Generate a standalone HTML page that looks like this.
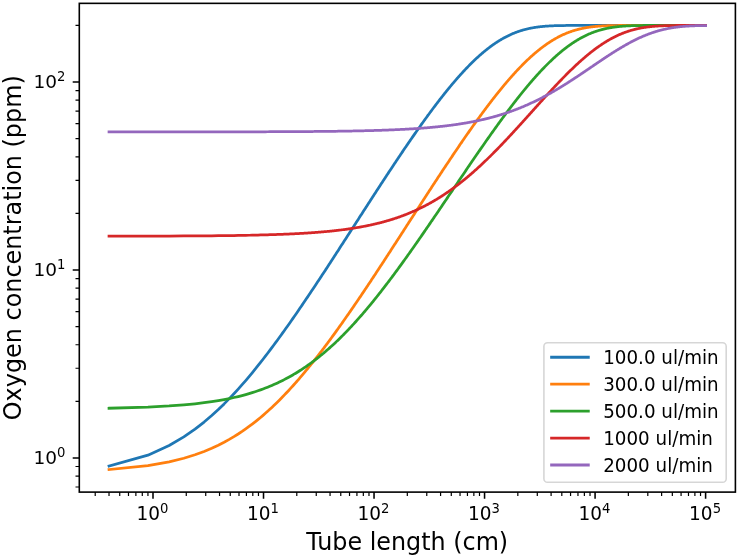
<!DOCTYPE html>
<html><head><meta charset="utf-8"><title>Oxygen concentration vs tube length</title>
<style>html,body{margin:0;padding:0;background:#fff}svg{display:block}text{font-family:"DejaVu Sans","Liberation Sans",sans-serif;fill:#000}</style></head><body>
<svg width="739" height="558" viewBox="0 0 739 558">
<rect width="739" height="558" fill="#fff"/>
<clipPath id="c"><rect x="79.30" y="3.35" width="656.10" height="488.75"/></clipPath>
<g clip-path="url(#c)" fill="none" stroke-width="2.75" stroke-linecap="square" stroke-linejoin="round">
<polyline stroke="#1f77b4" points="109.02,466.04 147.94,455.14 169.15,445.52 183.81,436.93 195.02,429.16 204.10,422.07 211.74,415.55 218.32,409.52 224.11,403.91 229.28,398.66 233.94,393.73 238.19,389.08 242.10,384.69 245.71,380.53 249.07,376.57 252.21,372.79 255.15,369.19 257.93,365.73 260.55,362.43 263.04,359.25 265.40,356.19 267.66,353.25 269.81,350.41 271.87,347.66 273.84,345.01 275.74,342.44 277.57,339.96 279.33,337.55 281.02,335.20 282.66,332.93 284.24,330.72 285.78,328.57 287.26,326.47 288.71,324.43 290.11,322.44 291.47,320.50 292.79,318.60 294.07,316.75 295.33,314.94 296.55,313.18 297.74,311.45 298.90,309.75 300.04,308.09 301.15,306.47 302.23,304.88 303.29,303.32 304.33,301.79 305.34,300.29 306.33,298.82 307.31,297.38 308.26,295.96 309.20,294.56 310.12,293.19 311.02,291.85 311.90,290.52 312.77,289.22 313.62,287.94 314.46,286.68 315.28,285.44 316.09,284.22 316.89,283.02 317.67,281.84 318.44,280.67 319.20,279.52 319.95,278.39 320.68,277.28 321.40,276.18 322.12,275.09 322.82,274.02 323.51,272.97 324.20,271.93 324.87,270.90 325.53,269.88 326.19,268.88 326.83,267.90 327.47,266.92 328.10,265.96 328.72,265.01 329.33,264.07 329.94,263.14 330.54,262.22 331.13,261.31 331.71,260.42 332.29,259.53 332.86,258.65 333.42,257.79 333.98,256.93 334.53,256.08 335.07,255.25 335.61,254.42 336.14,253.60 336.66,252.79 337.18,251.98 337.70,251.19 338.21,250.40 338.71,249.63 339.70,248.09 340.67,246.59 341.63,245.12 342.56,243.67 343.48,242.25 344.38,240.86 345.26,239.49 346.12,238.15 346.98,236.83 347.81,235.53 348.63,234.26 349.44,233.00 350.24,231.77 351.02,230.56 351.79,229.36 352.54,228.19 353.29,227.03 354.02,225.89 354.75,224.77 355.46,223.66 356.16,222.57 356.85,221.50 357.53,220.44 358.21,219.40 358.87,218.37 359.52,217.35 360.17,216.35 360.80,215.36 361.43,214.39 362.05,213.43 362.66,212.48 363.27,211.54 363.87,210.61 364.46,209.70 365.04,208.80 365.61,207.91 366.18,207.02 366.74,206.15 367.30,205.29 367.85,204.44 368.39,203.60 368.93,202.77 369.46,201.95 369.99,201.14 370.51,200.34 371.02,199.54 371.53,198.76 372.03,197.98 372.78,196.83 373.51,195.70 374.23,194.59 374.94,193.49 375.64,192.41 376.34,191.34 377.02,190.30 377.69,189.26 378.35,188.25 379.01,187.24 379.65,186.25 380.29,185.28 380.91,184.31 381.53,183.36 382.15,182.43 382.75,181.50 383.35,180.59 383.94,179.69 384.52,178.80 385.09,177.93 385.66,177.06 386.23,176.20 386.78,175.36 387.33,174.52 387.87,173.70 388.41,172.88 388.94,172.08 389.46,171.28 389.98,170.50 390.50,169.72 391.01,168.95 391.51,168.19 392.17,167.19 392.82,166.20 393.47,165.23 394.11,164.27 394.73,163.33 395.35,162.40 395.97,161.48 396.57,160.58 397.17,159.68 397.76,158.80 398.34,157.93 398.91,157.07 399.48,156.23 400.04,155.39 400.60,154.56 401.15,153.75 401.69,152.94 402.23,152.15 402.76,151.36 403.28,150.59 403.80,149.82 404.31,149.06 404.82,148.32 405.33,147.58 405.95,146.66 406.56,145.76 407.17,144.88 407.76,144.00 408.35,143.14 408.94,142.29 409.51,141.45 410.08,140.62 410.65,139.80 411.20,139.00 411.75,138.20 412.30,137.41 412.84,136.64 413.37,135.87 413.89,135.12 414.41,134.37 414.93,133.63 415.44,132.90 415.94,132.18 416.54,131.33 417.13,130.49 417.71,129.66 418.29,128.84 418.86,128.03 419.42,127.24 419.98,126.45 420.53,125.68 421.07,124.92 421.61,124.16 422.14,123.42 422.66,122.68 423.18,121.96 423.70,121.24 424.21,120.54 424.71,119.84 425.29,119.03 425.87,118.24 426.43,117.46 426.99,116.69 427.55,115.93 428.10,115.18 428.64,114.44 429.17,113.71 429.70,113.00 430.23,112.29 430.75,111.59 431.26,110.89 431.77,110.21 432.27,109.54 432.84,108.78 433.40,108.03 433.95,107.29 434.50,106.56 435.04,105.85 435.58,105.14 436.11,104.44 436.63,103.75 437.15,103.07 437.66,102.40 438.17,101.74 438.67,101.09 439.23,100.37 439.78,99.65 440.33,98.95 440.87,98.26 441.40,97.57 441.93,96.90 442.45,96.24 442.97,95.58 443.48,94.94 443.98,94.30 444.48,93.67 445.03,92.98 445.58,92.30 446.12,91.63 446.65,90.98 447.17,90.33 447.69,89.69 448.21,89.06 448.72,88.43 449.22,87.82 449.77,87.16 450.31,86.50 450.85,85.86 451.38,85.22 451.90,84.59 452.42,83.98 452.93,83.37 453.44,82.77 453.94,82.18 454.48,81.55 455.02,80.92 455.55,80.31 456.07,79.70 456.59,79.10 457.11,78.52 457.61,77.94 458.12,77.37 458.65,76.76 459.19,76.16 459.71,75.57 460.23,74.99 460.75,74.42 461.26,73.85 461.76,73.30 462.30,72.71 462.83,72.13 463.36,71.56 463.88,71.00 464.39,70.45 464.90,69.91 465.40,69.38 465.94,68.81 466.46,68.26 466.99,67.71 467.50,67.18 468.01,66.65 468.52,66.13 469.02,65.62 469.55,65.09 470.07,64.56 470.59,64.04 471.10,63.53 471.60,63.03 472.10,62.54 472.63,62.02 473.15,61.52 473.66,61.02 474.17,60.53 474.68,60.05 475.20,59.55 475.73,59.06 476.24,58.58 476.75,58.10 477.26,57.64 477.76,57.18 478.28,56.70 478.80,56.24 479.31,55.78 479.82,55.33 480.32,54.89 480.84,54.43 481.35,53.98 481.87,53.54 482.37,53.11 482.89,52.66 483.41,52.22 483.93,51.80 484.44,51.37 484.94,50.96 485.46,50.54 485.97,50.12 486.48,49.71 486.99,49.31 487.51,48.90 488.03,48.50 488.54,48.10 489.04,47.72 489.54,47.34 490.06,46.95 490.57,46.57 491.08,46.19 491.58,45.83 492.09,45.46 492.60,45.09 493.11,44.73 493.63,44.37 494.14,44.01 494.65,43.66 495.15,43.32 495.67,42.97 496.18,42.63 496.69,42.30 497.19,41.98 497.70,41.65 498.21,41.32 498.71,41.01 499.23,40.69 499.74,40.37 500.24,40.07 500.76,39.76 501.27,39.46 501.77,39.16 502.28,38.87 502.79,38.58 503.29,38.30 503.79,38.02 504.31,37.74 504.81,37.47 505.31,37.20 505.82,36.93 506.33,36.67 506.83,36.41 507.34,36.16 507.85,35.91 508.36,35.66 508.87,35.41 509.37,35.17 509.89,34.93 510.39,34.70 510.89,34.47 511.40,34.25 511.91,34.02 512.42,33.80 512.93,33.59 513.43,33.38 513.94,33.17 514.45,32.97 514.96,32.76 515.47,32.57 515.97,32.38 516.48,32.18 516.98,32.00 517.49,31.82 518.00,31.64 518.51,31.46 519.01,31.29 519.51,31.12 520.02,30.95 520.52,30.79 521.03,30.63 521.53,30.48 522.04,30.32 522.54,30.17 523.05,30.03 523.56,29.88 524.06,29.74 524.57,29.61 525.08,29.47 525.58,29.34 526.09,29.21 526.59,29.09 527.10,28.97 527.60,28.85 528.10,28.73 528.61,28.62 529.11,28.51 529.61,28.40 530.12,28.30 530.62,28.20 531.13,28.10 531.63,28.00 532.13,27.91 532.64,27.82 533.15,27.73 533.65,27.64 534.16,27.55 534.66,27.47 535.16,27.39 535.67,27.32 536.17,27.24 536.68,27.17 537.19,27.10 537.69,27.03 538.19,26.96 538.70,26.90 539.20,26.84 539.71,26.78 540.21,26.72 540.72,26.66 541.22,26.61 541.73,26.56 542.23,26.51 542.73,26.46 543.23,26.41 543.74,26.37 544.24,26.32 544.74,26.28 545.25,26.24 545.75,26.20 546.25,26.16 546.76,26.13 547.26,26.09 547.76,26.06 548.27,26.03 548.77,26.00 549.27,25.97 549.77,25.94 550.28,25.91 550.78,25.89 551.28,25.86 551.79,25.84 552.29,25.82 552.79,25.79 553.29,25.77 553.79,25.75 554.30,25.74 554.80,25.72 555.30,25.70 555.80,25.68 556.31,25.67 556.81,25.65 557.31,25.64 557.82,25.63 558.32,25.61 558.82,25.60 559.33,25.59 559.83,25.58 560.33,25.57 560.83,25.56 561.34,25.55 561.84,25.54 562.34,25.54 562.84,25.53 563.34,25.52 563.84,25.51 564.35,25.51 564.85,25.50 565.35,25.50 565.85,25.49 566.35,25.49 566.86,25.48 567.36,25.48 567.86,25.47 568.36,25.47 568.87,25.47 569.37,25.46 569.87,25.46 570.37,25.46 570.88,25.45 571.38,25.45 571.88,25.45 572.38,25.45 572.88,25.44 573.38,25.44 573.89,25.44 574.39,25.44 574.89,25.44 575.39,25.44 575.89,25.43 576.39,25.43 576.90,25.43 577.40,25.43 577.90,25.43 578.40,25.43 578.90,25.43 579.40,25.43 579.90,25.43 580.41,25.43 580.91,25.43 581.41,25.43 581.91,25.43 582.41,25.43 582.91,25.42 583.41,25.42 583.92,25.42 584.42,25.42 584.92,25.42 585.42,25.42 585.92,25.42 586.42,25.42 586.92,25.42 587.43,25.42 587.93,25.42 588.43,25.42 588.93,25.42 589.43,25.42 589.93,25.42 590.44,25.42 590.94,25.42 591.44,25.42 591.94,25.42 592.45,25.42 592.95,25.42 593.45,25.42 593.95,25.42 594.45,25.42 594.95,25.42 595.45,25.42 595.95,25.42 596.46,25.42 596.96,25.42 597.46,25.42 597.96,25.42 598.46,25.42 598.96,25.42 599.46,25.42 599.97,25.42 600.47,25.42 600.97,25.42 601.47,25.42 601.97,25.42 602.47,25.42 602.97,25.42 603.47,25.42 603.97,25.42 604.47,25.42 604.97,25.42 605.48,25.42 605.98,25.42 606.48,25.42 606.98,25.42 607.48,25.42 607.98,25.42 608.48,25.42 608.98,25.42 609.48,25.42 609.98,25.42 610.49,25.42 610.99,25.42 611.49,25.42 611.99,25.42 612.49,25.42 612.99,25.42 613.49,25.42 613.99,25.42 614.49,25.42 614.99,25.42 615.49,25.42 615.99,25.42 616.49,25.42 616.99,25.42 617.49,25.42 618.00,25.42 618.50,25.42 619.00,25.42 619.50,25.42 620.00,25.42 620.50,25.42 621.00,25.42 621.50,25.42 622.00,25.42 622.50,25.42 623.00,25.42 623.50,25.42 624.00,25.42 624.50,25.42 625.00,25.42 625.50,25.42 626.00,25.42 626.51,25.42 627.01,25.42 627.51,25.42 628.01,25.42 628.51,25.42 629.01,25.42 629.51,25.42 630.01,25.42 630.51,25.42 631.01,25.42 631.51,25.42 632.01,25.42 632.51,25.42 633.01,25.42 633.51,25.42 634.01,25.42 634.52,25.42 635.02,25.42 635.52,25.42 636.02,25.42 636.52,25.42 637.02,25.42 637.52,25.42 638.02,25.42 638.52,25.42 639.02,25.42 639.52,25.42 640.02,25.42 640.52,25.42 641.02,25.42 641.52,25.42 642.02,25.42 642.52,25.42 643.02,25.42 643.52,25.42 644.03,25.42 644.53,25.42 645.03,25.42 645.53,25.42 646.03,25.42 646.53,25.42 647.03,25.42 647.53,25.42 648.03,25.42 648.53,25.42 649.03,25.42 649.53,25.42 650.03,25.42 650.53,25.42 651.03,25.42 651.53,25.42 652.03,25.42 652.53,25.42 653.03,25.42 653.53,25.42 654.03,25.42 654.53,25.42 655.03,25.42 655.53,25.42 656.03,25.42 656.53,25.42 657.03,25.42 657.54,25.42 658.04,25.42 658.54,25.42 659.04,25.42 659.54,25.42 660.04,25.42 660.54,25.42 661.04,25.42 661.54,25.42 662.04,25.42 662.54,25.42 663.04,25.42 663.54,25.42 664.04,25.42 664.54,25.42 665.04,25.42 665.54,25.42 666.04,25.42 666.54,25.42 667.04,25.42 667.54,25.42 668.04,25.42 668.54,25.42 669.04,25.42 669.54,25.42 670.04,25.42 670.54,25.42 671.04,25.42 671.54,25.42 672.04,25.42 672.54,25.42 673.04,25.42 673.54,25.42 674.04,25.42 674.54,25.42 675.04,25.42 675.54,25.42 676.04,25.42 676.55,25.42 677.05,25.42 677.55,25.42 678.05,25.42 678.55,25.42 679.05,25.42 679.55,25.42 680.05,25.42 680.55,25.42 681.05,25.42 681.55,25.42 682.05,25.42 682.55,25.42 683.05,25.42 683.55,25.42 684.05,25.42 684.55,25.42 685.05,25.42 685.55,25.42 686.05,25.42 686.55,25.42 687.05,25.42 687.55,25.42 688.05,25.42 688.55,25.42 689.05,25.42 689.55,25.42 690.05,25.42 690.55,25.42 691.05,25.42 691.55,25.42 692.05,25.42 692.55,25.42 693.05,25.42 693.55,25.42 694.05,25.42 694.55,25.42 695.05,25.42 695.55,25.42 696.05,25.42 696.55,25.42 697.05,25.42 697.55,25.42 698.05,25.42 698.55,25.42 699.05,25.42 699.55,25.42 700.05,25.42 700.55,25.42 701.05,25.42 701.55,25.42 702.05,25.42 702.55,25.42 703.05,25.42 703.55,25.42 704.05,25.42 704.55,25.42 705.05,25.42 705.55,25.42 705.60,25.42"/>
<polyline stroke="#ff7f0e" points="109.02,469.59 147.94,465.63 169.15,461.85 183.81,458.23 195.02,454.77 204.10,451.46 211.74,448.27 218.32,445.20 224.11,442.25 229.28,439.40 233.94,436.64 238.19,433.98 242.10,431.40 245.71,428.90 249.07,426.47 252.21,424.12 255.15,421.83 257.93,419.60 260.55,417.44 263.04,415.33 265.40,413.27 267.66,411.27 269.81,409.31 271.87,407.40 273.84,405.54 275.74,403.71 277.57,401.93 279.33,400.18 281.02,398.48 282.66,396.80 284.24,395.16 285.78,393.56 287.26,391.98 288.71,390.44 290.11,388.92 291.47,387.43 292.79,385.97 294.07,384.54 295.33,383.13 296.55,381.74 297.74,380.38 298.90,379.04 300.04,377.72 301.15,376.43 302.23,375.15 303.29,373.90 304.33,372.66 305.34,371.44 306.33,370.24 307.31,369.06 308.26,367.89 309.20,366.75 310.12,365.61 311.02,364.50 311.90,363.40 312.77,362.31 313.62,361.24 314.46,360.18 315.28,359.14 316.09,358.11 316.89,357.09 317.67,356.08 318.44,355.09 319.20,354.11 319.95,353.14 320.68,352.19 321.40,351.24 322.12,350.31 322.82,349.38 323.51,348.47 324.20,347.57 324.87,346.68 325.53,345.79 326.19,344.92 326.83,344.06 327.47,343.20 328.10,342.36 328.72,341.52 329.33,340.69 329.94,339.87 330.54,339.06 331.13,338.26 331.71,337.46 332.29,336.67 332.86,335.89 333.42,335.12 333.98,334.36 334.53,333.60 335.07,332.85 335.61,332.11 336.14,331.37 336.66,330.64 337.18,329.92 337.70,329.20 338.21,328.49 338.71,327.79 339.70,326.40 340.67,325.03 341.63,323.69 342.56,322.37 343.48,321.07 344.38,319.79 345.26,318.54 346.12,317.30 346.98,316.08 347.81,314.88 348.63,313.70 349.44,312.53 350.24,311.38 351.02,310.25 351.79,309.14 352.54,308.04 353.29,306.95 354.02,305.88 354.75,304.82 355.46,303.78 356.16,302.75 356.85,301.74 357.53,300.74 358.21,299.75 358.87,298.77 359.52,297.80 360.17,296.85 360.80,295.91 361.43,294.98 362.05,294.05 362.66,293.14 363.27,292.25 363.87,291.36 364.46,290.48 365.04,289.61 365.61,288.75 366.18,287.90 366.74,287.06 367.30,286.22 367.85,285.40 368.39,284.58 368.93,283.78 369.46,282.98 369.99,282.19 370.51,281.41 371.02,280.63 371.53,279.86 372.03,279.10 372.78,277.98 373.51,276.87 374.23,275.77 374.94,274.70 375.64,273.63 376.34,272.58 377.02,271.55 377.69,270.52 378.35,269.51 379.01,268.52 379.65,267.53 380.29,266.56 380.91,265.60 381.53,264.66 382.15,263.72 382.75,262.80 383.35,261.88 383.94,260.98 384.52,260.09 385.09,259.21 385.66,258.33 386.23,257.47 386.78,256.62 387.33,255.77 387.87,254.94 388.41,254.11 388.94,253.30 389.46,252.49 389.98,251.69 390.50,250.90 391.01,250.12 391.51,249.34 392.17,248.32 392.82,247.31 393.47,246.32 394.11,245.33 394.73,244.36 395.35,243.41 395.97,242.46 396.57,241.53 397.17,240.61 397.76,239.69 398.34,238.79 398.91,237.90 399.48,237.02 400.04,236.16 400.60,235.30 401.15,234.45 401.69,233.61 402.23,232.77 402.76,231.95 403.28,231.14 403.80,230.33 404.31,229.54 404.82,228.75 405.33,227.97 405.95,227.01 406.56,226.06 407.17,225.12 407.76,224.19 408.35,223.28 408.94,222.37 409.51,221.48 410.08,220.60 410.65,219.72 411.20,218.86 411.75,218.01 412.30,217.17 412.84,216.33 413.37,215.51 413.89,214.69 414.41,213.89 414.93,213.09 415.44,212.30 415.94,211.52 416.54,210.60 417.13,209.68 417.71,208.78 418.29,207.89 418.86,207.01 419.42,206.14 419.98,205.28 420.53,204.43 421.07,203.59 421.61,202.76 422.14,201.94 422.66,201.13 423.18,200.32 423.70,199.53 424.21,198.74 424.71,197.97 425.29,197.07 425.87,196.19 426.43,195.31 426.99,194.45 427.55,193.60 428.10,192.75 428.64,191.92 429.17,191.10 429.70,190.28 430.23,189.48 430.75,188.68 431.26,187.90 431.77,187.12 432.27,186.35 432.84,185.48 433.40,184.62 433.95,183.77 434.50,182.94 435.04,182.11 435.58,181.29 436.11,180.48 436.63,179.68 437.15,178.89 437.66,178.11 438.17,177.34 438.67,176.57 439.23,175.72 439.78,174.88 440.33,174.05 440.87,173.24 441.40,172.43 441.93,171.63 442.45,170.84 442.97,170.05 443.48,169.28 443.98,168.52 444.48,167.76 445.03,166.93 445.58,166.11 446.12,165.30 446.65,164.50 447.17,163.71 447.69,162.93 448.21,162.16 448.72,161.40 449.22,160.64 449.77,159.82 450.31,159.01 450.85,158.21 451.38,157.42 451.90,156.64 452.42,155.87 452.93,155.11 453.44,154.35 453.94,153.61 454.48,152.80 455.02,152.01 455.55,151.23 456.07,150.45 456.59,149.69 457.11,148.93 457.61,148.18 458.12,147.45 458.65,146.66 459.19,145.88 459.71,145.10 460.23,144.34 460.75,143.59 461.26,142.85 461.76,142.11 462.30,141.33 462.83,140.56 463.36,139.80 463.88,139.04 464.39,138.30 464.90,137.56 465.40,136.84 465.94,136.07 466.46,135.31 466.99,134.56 467.50,133.82 468.01,133.09 468.52,132.37 469.02,131.65 469.55,130.90 470.07,130.16 470.59,129.43 471.10,128.70 471.60,127.99 472.10,127.28 472.63,126.54 473.15,125.80 473.66,125.08 474.17,124.37 474.68,123.66 475.20,122.92 475.73,122.20 476.24,121.48 476.75,120.77 477.26,120.07 477.76,119.37 478.28,118.65 478.80,117.94 479.31,117.24 479.82,116.54 480.32,115.86 480.84,115.14 481.35,114.44 481.87,113.75 482.37,113.06 482.89,112.35 483.41,111.65 483.93,110.96 484.44,110.27 484.94,109.60 485.46,108.90 485.97,108.21 486.48,107.53 486.99,106.86 487.51,106.17 488.03,105.49 488.54,104.81 489.04,104.15 489.54,103.49 490.06,102.82 490.57,102.15 491.08,101.49 491.58,100.84 492.09,100.18 492.60,99.52 493.11,98.87 493.63,98.20 494.14,97.55 494.65,96.90 495.15,96.26 495.67,95.60 496.18,94.96 496.69,94.32 497.19,93.69 497.70,93.05 498.21,92.41 498.71,91.79 499.23,91.15 499.74,90.52 500.24,89.90 500.76,89.26 501.27,88.64 501.77,88.02 502.28,87.41 502.79,86.80 503.29,86.19 503.79,85.58 504.31,84.97 504.81,84.37 505.31,83.77 505.82,83.17 506.33,82.57 506.83,81.98 507.34,81.39 507.85,80.80 508.36,80.20 508.87,79.62 509.37,79.04 509.89,78.45 510.39,77.87 510.89,77.30 511.40,76.72 511.91,76.16 512.42,75.58 512.93,75.02 513.43,74.46 513.94,73.89 514.45,73.34 514.96,72.78 515.47,72.23 515.97,71.68 516.48,71.13 516.98,70.59 517.49,70.05 518.00,69.51 518.51,68.97 519.01,68.44 519.51,67.92 520.02,67.39 520.52,66.87 521.03,66.35 521.53,65.83 522.04,65.32 522.54,64.81 523.05,64.30 523.56,63.79 524.06,63.29 524.57,62.79 525.08,62.29 525.58,61.80 526.09,61.31 526.59,60.83 527.10,60.34 527.60,59.86 528.10,59.38 528.61,58.91 529.11,58.44 529.61,57.98 530.12,57.52 530.62,57.05 531.13,56.59 531.63,56.14 532.13,55.69 532.64,55.24 533.15,54.79 533.65,54.35 534.16,53.91 534.66,53.48 535.16,53.05 535.67,52.62 536.17,52.20 536.68,51.77 537.19,51.35 537.69,50.94 538.19,50.53 538.70,50.12 539.20,49.72 539.71,49.32 540.21,48.92 540.72,48.53 541.22,48.14 541.73,47.75 542.23,47.37 542.73,46.99 543.23,46.61 543.74,46.24 544.24,45.87 544.74,45.51 545.25,45.15 545.75,44.79 546.25,44.44 546.76,44.09 547.26,43.74 547.76,43.40 548.27,43.06 548.77,42.73 549.27,42.39 549.77,42.07 550.28,41.74 550.78,41.42 551.28,41.10 551.79,40.79 552.29,40.48 552.79,40.18 553.29,39.87 553.79,39.58 554.30,39.28 554.80,38.99 555.30,38.70 555.80,38.42 556.31,38.14 556.81,37.86 557.31,37.59 557.82,37.32 558.32,37.05 558.82,36.79 559.33,36.53 559.83,36.28 560.33,36.03 560.83,35.78 561.34,35.54 561.84,35.30 562.34,35.06 562.84,34.83 563.34,34.60 563.84,34.37 564.35,34.15 564.85,33.93 565.35,33.72 565.85,33.51 566.35,33.30 566.86,33.09 567.36,32.89 567.86,32.70 568.36,32.50 568.87,32.31 569.37,32.12 569.87,31.94 570.37,31.76 570.88,31.58 571.38,31.41 571.88,31.24 572.38,31.07 572.88,30.91 573.38,30.75 573.89,30.59 574.39,30.44 574.89,30.29 575.39,30.14 575.89,30.00 576.39,29.85 576.90,29.72 577.40,29.58 577.90,29.45 578.40,29.32 578.90,29.19 579.40,29.07 579.90,28.95 580.41,28.83 580.91,28.72 581.41,28.61 581.91,28.50 582.41,28.39 582.91,28.29 583.41,28.18 583.92,28.09 584.42,27.99 584.92,27.90 585.42,27.81 585.92,27.72 586.42,27.63 586.92,27.55 587.43,27.47 587.93,27.39 588.43,27.31 588.93,27.24 589.43,27.17 589.93,27.10 590.44,27.03 590.94,26.96 591.44,26.90 591.94,26.84 592.45,26.78 592.95,26.72 593.45,26.66 593.95,26.61 594.45,26.56 594.95,26.51 595.45,26.46 595.95,26.41 596.46,26.37 596.96,26.32 597.46,26.28 597.96,26.24 598.46,26.20 598.96,26.17 599.46,26.13 599.97,26.09 600.47,26.06 600.97,26.03 601.47,26.00 601.97,25.97 602.47,25.94 602.97,25.91 603.47,25.89 603.97,25.86 604.47,25.84 604.97,25.82 605.48,25.80 605.98,25.78 606.48,25.76 606.98,25.74 607.48,25.72 607.98,25.70 608.48,25.69 608.98,25.67 609.48,25.66 609.98,25.64 610.49,25.63 610.99,25.62 611.49,25.60 611.99,25.59 612.49,25.58 612.99,25.57 613.49,25.56 613.99,25.55 614.49,25.54 614.99,25.54 615.49,25.53 615.99,25.52 616.49,25.51 616.99,25.51 617.49,25.50 618.00,25.50 618.50,25.49 619.00,25.49 619.50,25.48 620.00,25.48 620.50,25.47 621.00,25.47 621.50,25.47 622.00,25.46 622.50,25.46 623.00,25.46 623.50,25.45 624.00,25.45 624.50,25.45 625.00,25.45 625.50,25.44 626.00,25.44 626.51,25.44 627.01,25.44 627.51,25.44 628.01,25.44 628.51,25.44 629.01,25.43 629.51,25.43 630.01,25.43 630.51,25.43 631.01,25.43 631.51,25.43 632.01,25.43 632.51,25.43 633.01,25.43 633.51,25.43 634.01,25.43 634.52,25.43 635.02,25.43 635.52,25.42 636.02,25.42 636.52,25.42 637.02,25.42 637.52,25.42 638.02,25.42 638.52,25.42 639.02,25.42 639.52,25.42 640.02,25.42 640.52,25.42 641.02,25.42 641.52,25.42 642.02,25.42 642.52,25.42 643.02,25.42 643.52,25.42 644.03,25.42 644.53,25.42 645.03,25.42 645.53,25.42 646.03,25.42 646.53,25.42 647.03,25.42 647.53,25.42 648.03,25.42 648.53,25.42 649.03,25.42 649.53,25.42 650.03,25.42 650.53,25.42 651.03,25.42 651.53,25.42 652.03,25.42 652.53,25.42 653.03,25.42 653.53,25.42 654.03,25.42 654.53,25.42 655.03,25.42 655.53,25.42 656.03,25.42 656.53,25.42 657.03,25.42 657.54,25.42 658.04,25.42 658.54,25.42 659.04,25.42 659.54,25.42 660.04,25.42 660.54,25.42 661.04,25.42 661.54,25.42 662.04,25.42 662.54,25.42 663.04,25.42 663.54,25.42 664.04,25.42 664.54,25.42 665.04,25.42 665.54,25.42 666.04,25.42 666.54,25.42 667.04,25.42 667.54,25.42 668.04,25.42 668.54,25.42 669.04,25.42 669.54,25.42 670.04,25.42 670.54,25.42 671.04,25.42 671.54,25.42 672.04,25.42 672.54,25.42 673.04,25.42 673.54,25.42 674.04,25.42 674.54,25.42 675.04,25.42 675.54,25.42 676.04,25.42 676.55,25.42 677.05,25.42 677.55,25.42 678.05,25.42 678.55,25.42 679.05,25.42 679.55,25.42 680.05,25.42 680.55,25.42 681.05,25.42 681.55,25.42 682.05,25.42 682.55,25.42 683.05,25.42 683.55,25.42 684.05,25.42 684.55,25.42 685.05,25.42 685.55,25.42 686.05,25.42 686.55,25.42 687.05,25.42 687.55,25.42 688.05,25.42 688.55,25.42 689.05,25.42 689.55,25.42 690.05,25.42 690.55,25.42 691.05,25.42 691.55,25.42 692.05,25.42 692.55,25.42 693.05,25.42 693.55,25.42 694.05,25.42 694.55,25.42 695.05,25.42 695.55,25.42 696.05,25.42 696.55,25.42 697.05,25.42 697.55,25.42 698.05,25.42 698.55,25.42 699.05,25.42 699.55,25.42 700.05,25.42 700.55,25.42 701.05,25.42 701.55,25.42 702.05,25.42 702.55,25.42 703.05,25.42 703.55,25.42 704.05,25.42 704.55,25.42 705.05,25.42 705.55,25.42 705.60,25.42"/>
<polyline stroke="#2ca02c" points="109.02,408.23 147.94,407.10 169.15,405.98 183.81,404.87 195.02,403.78 204.10,402.71 211.74,401.64 218.32,400.60 224.11,399.56 229.28,398.54 233.94,397.53 238.19,396.54 242.10,395.55 245.71,394.58 249.07,393.62 252.21,392.67 255.15,391.73 257.93,390.80 260.55,389.89 263.04,388.98 265.40,388.08 267.66,387.20 269.81,386.32 271.87,385.45 273.84,384.59 275.74,383.74 277.57,382.90 279.33,382.07 281.02,381.25 282.66,380.43 284.24,379.63 285.78,378.83 287.26,378.04 288.71,377.25 290.11,376.48 291.47,375.71 292.79,374.95 294.07,374.19 295.33,373.45 296.55,372.71 297.74,371.97 298.90,371.25 300.04,370.53 301.15,369.81 302.23,369.10 303.29,368.40 304.33,367.71 305.34,367.02 306.33,366.33 307.31,365.66 308.26,364.98 309.20,364.32 310.12,363.66 311.02,363.00 311.90,362.35 312.77,361.71 313.62,361.07 314.46,360.43 315.28,359.80 316.09,359.18 316.89,358.56 317.67,357.94 318.44,357.33 319.20,356.72 319.95,356.12 320.68,355.53 321.40,354.93 322.12,354.34 322.82,353.76 323.51,353.18 324.20,352.60 324.87,352.03 325.53,351.47 326.19,350.90 326.83,350.34 327.47,349.79 328.10,349.23 328.72,348.69 329.33,348.14 329.94,347.60 330.54,347.06 331.13,346.53 331.71,346.00 332.29,345.47 332.86,344.95 333.42,344.43 333.98,343.92 334.53,343.40 335.07,342.89 335.61,342.39 336.14,341.88 336.66,341.38 337.18,340.89 337.70,340.39 338.21,339.90 338.71,339.41 339.70,338.45 340.67,337.49 341.63,336.55 342.56,335.61 343.48,334.69 344.38,333.78 345.26,332.88 346.12,331.99 346.98,331.11 347.81,330.23 348.63,329.37 349.44,328.52 350.24,327.67 351.02,326.84 351.79,326.01 352.54,325.19 353.29,324.38 354.02,323.58 354.75,322.79 355.46,322.00 356.16,321.23 356.85,320.45 357.53,319.69 358.21,318.94 358.87,318.19 359.52,317.45 360.17,316.71 360.80,315.98 361.43,315.26 362.05,314.55 362.66,313.84 363.27,313.13 363.87,312.44 364.46,311.75 365.04,311.06 365.61,310.39 366.18,309.71 366.74,309.05 367.30,308.39 367.85,307.73 368.39,307.08 368.93,306.43 369.46,305.79 369.99,305.16 370.51,304.53 371.02,303.91 371.53,303.29 372.03,302.67 372.78,301.76 373.51,300.85 374.23,299.96 374.94,299.08 375.64,298.21 376.34,297.34 377.02,296.49 377.69,295.64 378.35,294.81 379.01,293.98 379.65,293.16 380.29,292.35 380.91,291.55 381.53,290.76 382.15,289.97 382.75,289.19 383.35,288.42 383.94,287.66 384.52,286.90 385.09,286.16 385.66,285.41 386.23,284.68 386.78,283.95 387.33,283.23 387.87,282.52 388.41,281.81 388.94,281.11 389.46,280.41 389.98,279.73 390.50,279.04 391.01,278.37 391.51,277.69 392.17,276.81 392.82,275.93 393.47,275.07 394.11,274.21 394.73,273.36 395.35,272.52 395.97,271.70 396.57,270.87 397.17,270.06 397.76,269.26 398.34,268.46 398.91,267.68 399.48,266.90 400.04,266.13 400.60,265.36 401.15,264.61 401.69,263.86 402.23,263.12 402.76,262.38 403.28,261.65 403.80,260.93 404.31,260.22 404.82,259.51 405.33,258.81 405.95,257.94 406.56,257.08 407.17,256.23 407.76,255.39 408.35,254.56 408.94,253.74 409.51,252.93 410.08,252.13 410.65,251.33 411.20,250.54 411.75,249.76 412.30,248.99 412.84,248.23 413.37,247.47 413.89,246.72 414.41,245.98 414.93,245.25 415.44,244.52 415.94,243.80 416.54,242.94 417.13,242.10 417.71,241.26 418.29,240.43 418.86,239.61 419.42,238.80 419.98,238.00 420.53,237.21 421.07,236.42 421.61,235.65 422.14,234.88 422.66,234.12 423.18,233.36 423.70,232.62 424.21,231.88 424.71,231.15 425.29,230.30 425.87,229.47 426.43,228.64 426.99,227.82 427.55,227.02 428.10,226.22 428.64,225.43 429.17,224.64 429.70,223.87 430.23,223.10 430.75,222.34 431.26,221.59 431.77,220.85 432.27,220.11 432.84,219.28 433.40,218.46 433.95,217.64 434.50,216.84 435.04,216.04 435.58,215.25 436.11,214.47 436.63,213.70 437.15,212.94 437.66,212.18 438.17,211.44 438.67,210.70 439.23,209.87 439.78,209.06 440.33,208.25 440.87,207.45 441.40,206.67 441.93,205.89 442.45,205.11 442.97,204.35 443.48,203.59 443.98,202.85 444.48,202.11 445.03,201.29 445.58,200.49 446.12,199.69 446.65,198.91 447.17,198.13 447.69,197.36 448.21,196.59 448.72,195.84 449.22,195.09 449.77,194.28 450.31,193.48 450.85,192.69 451.38,191.90 451.90,191.13 452.42,190.36 452.93,189.60 453.44,188.85 453.94,188.10 454.48,187.30 455.02,186.51 455.55,185.72 456.07,184.95 456.59,184.18 457.11,183.42 457.61,182.67 458.12,181.93 458.65,181.13 459.19,180.34 459.71,179.57 460.23,178.80 460.75,178.04 461.26,177.28 461.76,176.54 462.30,175.75 462.83,174.96 463.36,174.19 463.88,173.42 464.39,172.66 464.90,171.91 465.40,171.17 465.94,170.39 466.46,169.61 466.99,168.84 467.50,168.08 468.01,167.33 468.52,166.59 469.02,165.86 469.55,165.08 470.07,164.32 470.59,163.56 471.10,162.81 471.60,162.07 472.10,161.34 472.63,160.57 473.15,159.81 473.66,159.06 474.17,158.32 474.68,157.58 475.20,156.81 475.73,156.05 476.24,155.30 476.75,154.56 477.26,153.83 477.76,153.10 478.28,152.34 478.80,151.59 479.31,150.85 479.82,150.12 480.32,149.40 480.84,148.65 481.35,147.90 481.87,147.17 482.37,146.44 482.89,145.69 483.41,144.94 483.93,144.21 484.44,143.48 484.94,142.76 485.46,142.01 485.97,141.28 486.48,140.55 486.99,139.83 487.51,139.09 488.03,138.35 488.54,137.63 489.04,136.91 489.54,136.20 490.06,135.47 490.57,134.75 491.08,134.04 491.58,133.33 492.09,132.61 492.60,131.89 493.11,131.18 493.63,130.46 494.14,129.74 494.65,129.03 495.15,128.33 495.67,127.61 496.18,126.89 496.69,126.19 497.19,125.50 497.70,124.79 498.21,124.09 498.71,123.39 499.23,122.68 499.74,121.98 500.24,121.29 500.76,120.58 501.27,119.88 501.77,119.19 502.28,118.51 502.79,117.81 503.29,117.13 503.79,116.45 504.31,115.76 504.81,115.07 505.31,114.40 505.82,113.71 506.33,113.03 506.83,112.36 507.34,111.68 507.85,111.01 508.36,110.33 508.87,109.65 509.37,108.98 509.89,108.31 510.39,107.64 510.89,106.98 511.40,106.31 511.91,105.65 512.42,104.98 512.93,104.32 513.43,103.67 513.94,103.00 514.45,102.35 514.96,101.69 515.47,101.04 515.97,100.40 516.48,99.75 516.98,99.10 517.49,98.45 518.00,97.81 518.51,97.17 519.01,96.53 519.51,95.90 520.02,95.26 520.52,94.64 521.03,94.00 521.53,93.38 522.04,92.75 522.54,92.13 523.05,91.50 523.56,90.88 524.06,90.26 524.57,89.65 525.08,89.03 525.58,88.42 526.09,87.81 526.59,87.20 527.10,86.59 527.60,85.99 528.10,85.39 528.61,84.80 529.11,84.20 529.61,83.61 530.12,83.02 530.62,82.43 531.13,81.84 531.63,81.25 532.13,80.67 532.64,80.09 533.15,79.51 533.65,78.94 534.16,78.36 534.66,77.79 535.16,77.22 535.67,76.65 536.17,76.09 536.68,75.53 537.19,74.97 537.69,74.41 538.19,73.86 538.70,73.31 539.20,72.76 539.71,72.21 540.21,71.67 540.72,71.13 541.22,70.59 541.73,70.06 542.23,69.53 542.73,69.00 543.23,68.47 543.74,67.94 544.24,67.43 544.74,66.91 545.25,66.39 545.75,65.88 546.25,65.37 546.76,64.87 547.26,64.36 547.76,63.86 548.27,63.36 548.77,62.87 549.27,62.38 549.77,61.89 550.28,61.40 550.78,60.92 551.28,60.44 551.79,59.96 552.29,59.49 552.79,59.02 553.29,58.55 553.79,58.09 554.30,57.63 554.80,57.17 555.30,56.72 555.80,56.26 556.31,55.82 556.81,55.37 557.31,54.93 557.82,54.49 558.32,54.05 558.82,53.62 559.33,53.19 559.83,52.76 560.33,52.34 560.83,51.92 561.34,51.51 561.84,51.09 562.34,50.69 562.84,50.28 563.34,49.88 563.84,49.48 564.35,49.08 564.85,48.69 565.35,48.30 565.85,47.92 566.35,47.54 566.86,47.16 567.36,46.78 567.86,46.41 568.36,46.05 568.87,45.68 569.37,45.32 569.87,44.96 570.37,44.61 570.88,44.26 571.38,43.91 571.88,43.57 572.38,43.23 572.88,42.90 573.38,42.57 573.89,42.24 574.39,41.91 574.89,41.59 575.39,41.27 575.89,40.96 576.39,40.65 576.90,40.35 577.40,40.04 577.90,39.74 578.40,39.45 578.90,39.16 579.40,38.87 579.90,38.58 580.41,38.30 580.91,38.02 581.41,37.75 581.91,37.48 582.41,37.21 582.91,36.95 583.41,36.69 583.92,36.44 584.42,36.19 584.92,35.94 585.42,35.69 585.92,35.45 586.42,35.21 586.92,34.98 587.43,34.75 587.93,34.52 588.43,34.30 588.93,34.08 589.43,33.86 589.93,33.65 590.44,33.44 590.94,33.23 591.44,33.03 591.94,32.83 592.45,32.63 592.95,32.44 593.45,32.25 593.95,32.07 594.45,31.88 594.95,31.71 595.45,31.53 595.95,31.36 596.46,31.19 596.96,31.03 597.46,30.86 597.96,30.70 598.46,30.55 598.96,30.40 599.46,30.25 599.97,30.10 600.47,29.96 600.97,29.82 601.47,29.68 601.97,29.55 602.47,29.41 602.97,29.29 603.47,29.16 603.97,29.04 604.47,28.92 604.97,28.80 605.48,28.69 605.98,28.58 606.48,28.47 606.98,28.36 607.48,28.26 607.98,28.16 608.48,28.06 608.98,27.97 609.48,27.88 609.98,27.79 610.49,27.70 610.99,27.61 611.49,27.53 611.99,27.45 612.49,27.37 612.99,27.30 613.49,27.22 613.99,27.15 614.49,27.08 614.99,27.02 615.49,26.95 615.99,26.89 616.49,26.83 616.99,26.77 617.49,26.71 618.00,26.65 618.50,26.60 619.00,26.55 619.50,26.50 620.00,26.45 620.50,26.41 621.00,26.36 621.50,26.32 622.00,26.28 622.50,26.24 623.00,26.20 623.50,26.16 624.00,26.12 624.50,26.09 625.00,26.06 625.50,26.03 626.00,26.00 626.51,25.97 627.01,25.94 627.51,25.91 628.01,25.89 628.51,25.86 629.01,25.84 629.51,25.82 630.01,25.79 630.51,25.77 631.01,25.75 631.51,25.74 632.01,25.72 632.51,25.70 633.01,25.68 633.51,25.67 634.01,25.65 634.52,25.64 635.02,25.63 635.52,25.61 636.02,25.60 636.52,25.59 637.02,25.58 637.52,25.57 638.02,25.56 638.52,25.55 639.02,25.54 639.52,25.54 640.02,25.53 640.52,25.52 641.02,25.51 641.52,25.51 642.02,25.50 642.52,25.50 643.02,25.49 643.52,25.49 644.03,25.48 644.53,25.48 645.03,25.47 645.53,25.47 646.03,25.47 646.53,25.46 647.03,25.46 647.53,25.46 648.03,25.45 648.53,25.45 649.03,25.45 649.53,25.45 650.03,25.44 650.53,25.44 651.03,25.44 651.53,25.44 652.03,25.44 652.53,25.44 653.03,25.43 653.53,25.43 654.03,25.43 654.53,25.43 655.03,25.43 655.53,25.43 656.03,25.43 656.53,25.43 657.03,25.43 657.54,25.43 658.04,25.43 658.54,25.43 659.04,25.43 659.54,25.43 660.04,25.42 660.54,25.42 661.04,25.42 661.54,25.42 662.04,25.42 662.54,25.42 663.04,25.42 663.54,25.42 664.04,25.42 664.54,25.42 665.04,25.42 665.54,25.42 666.04,25.42 666.54,25.42 667.04,25.42 667.54,25.42 668.04,25.42 668.54,25.42 669.04,25.42 669.54,25.42 670.04,25.42 670.54,25.42 671.04,25.42 671.54,25.42 672.04,25.42 672.54,25.42 673.04,25.42 673.54,25.42 674.04,25.42 674.54,25.42 675.04,25.42 675.54,25.42 676.04,25.42 676.55,25.42 677.05,25.42 677.55,25.42 678.05,25.42 678.55,25.42 679.05,25.42 679.55,25.42 680.05,25.42 680.55,25.42 681.05,25.42 681.55,25.42 682.05,25.42 682.55,25.42 683.05,25.42 683.55,25.42 684.05,25.42 684.55,25.42 685.05,25.42 685.55,25.42 686.05,25.42 686.55,25.42 687.05,25.42 687.55,25.42 688.05,25.42 688.55,25.42 689.05,25.42 689.55,25.42 690.05,25.42 690.55,25.42 691.05,25.42 691.55,25.42 692.05,25.42 692.55,25.42 693.05,25.42 693.55,25.42 694.05,25.42 694.55,25.42 695.05,25.42 695.55,25.42 696.05,25.42 696.55,25.42 697.05,25.42 697.55,25.42 698.05,25.42 698.55,25.42 699.05,25.42 699.55,25.42 700.05,25.42 700.55,25.42 701.05,25.42 701.55,25.42 702.05,25.42 702.55,25.42 703.05,25.42 703.55,25.42 704.05,25.42 704.55,25.42 705.05,25.42 705.55,25.42 705.60,25.42"/>
<polyline stroke="#d62728" points="109.02,236.15 147.94,236.09 169.15,236.02 183.81,235.96 195.02,235.89 204.10,235.83 211.74,235.76 218.32,235.70 224.11,235.63 229.28,235.57 233.94,235.51 238.19,235.44 242.10,235.38 245.71,235.31 249.07,235.25 252.21,235.19 255.15,235.12 257.93,235.06 260.55,234.99 263.04,234.93 265.40,234.87 267.66,234.80 269.81,234.74 271.87,234.67 273.84,234.61 275.74,234.55 277.57,234.48 279.33,234.42 281.02,234.36 282.66,234.29 284.24,234.23 285.78,234.17 287.26,234.10 288.71,234.04 290.11,233.98 291.47,233.92 292.79,233.85 294.07,233.79 295.33,233.73 296.55,233.66 297.74,233.60 298.90,233.54 300.04,233.48 301.15,233.41 302.23,233.35 303.29,233.29 304.33,233.23 305.34,233.16 306.33,233.10 307.31,233.04 308.26,232.98 309.20,232.92 310.12,232.85 311.02,232.79 311.90,232.73 312.77,232.67 313.62,232.61 314.46,232.54 315.28,232.48 316.09,232.42 316.89,232.36 317.67,232.30 318.44,232.24 319.20,232.17 319.95,232.11 320.68,232.05 321.40,231.99 322.12,231.93 322.82,231.87 323.51,231.81 324.20,231.74 324.87,231.68 325.53,231.62 326.19,231.56 326.83,231.50 327.47,231.44 328.10,231.38 328.72,231.32 329.33,231.26 329.94,231.20 330.54,231.14 331.13,231.08 331.71,231.01 332.29,230.95 332.86,230.89 333.42,230.83 333.98,230.77 334.53,230.71 335.07,230.65 335.61,230.59 336.14,230.53 336.66,230.47 337.18,230.41 337.70,230.35 338.21,230.29 338.71,230.23 339.70,230.11 340.67,229.99 341.63,229.87 342.56,229.75 343.48,229.63 344.38,229.52 345.26,229.40 346.12,229.28 346.98,229.16 347.81,229.04 348.63,228.92 349.44,228.81 350.24,228.69 351.02,228.57 351.79,228.45 352.54,228.34 353.29,228.22 354.02,228.10 354.75,227.99 355.46,227.87 356.16,227.76 356.85,227.64 357.53,227.52 358.21,227.41 358.87,227.29 359.52,227.18 360.17,227.06 360.80,226.95 361.43,226.83 362.05,226.72 362.66,226.61 363.27,226.49 363.87,226.38 364.46,226.26 365.04,226.15 365.61,226.04 366.18,225.92 366.74,225.81 367.30,225.70 367.85,225.58 368.39,225.47 368.93,225.36 369.46,225.25 369.99,225.14 370.51,225.02 371.02,224.91 371.53,224.80 372.03,224.69 372.78,224.52 373.51,224.36 374.23,224.19 374.94,224.02 375.64,223.86 376.34,223.69 377.02,223.53 377.69,223.37 378.35,223.20 379.01,223.04 379.65,222.88 380.29,222.71 380.91,222.55 381.53,222.39 382.15,222.23 382.75,222.07 383.35,221.90 383.94,221.74 384.52,221.58 385.09,221.42 385.66,221.26 386.23,221.10 386.78,220.95 387.33,220.79 387.87,220.63 388.41,220.47 388.94,220.31 389.46,220.16 389.98,220.00 390.50,219.84 391.01,219.69 391.51,219.53 392.17,219.32 392.82,219.12 393.47,218.91 394.11,218.70 394.73,218.50 395.35,218.30 395.97,218.09 396.57,217.89 397.17,217.69 397.76,217.48 398.34,217.28 398.91,217.08 399.48,216.88 400.04,216.68 400.60,216.48 401.15,216.28 401.69,216.08 402.23,215.88 402.76,215.69 403.28,215.49 403.80,215.29 404.31,215.10 404.82,214.90 405.33,214.71 405.95,214.47 406.56,214.22 407.17,213.98 407.76,213.74 408.35,213.50 408.94,213.26 409.51,213.03 410.08,212.79 410.65,212.55 411.20,212.32 411.75,212.08 412.30,211.85 412.84,211.61 413.37,211.38 413.89,211.15 414.41,210.92 414.93,210.69 415.44,210.46 415.94,210.23 416.54,209.95 417.13,209.68 417.71,209.41 418.29,209.14 418.86,208.87 419.42,208.60 419.98,208.33 420.53,208.06 421.07,207.80 421.61,207.53 422.14,207.27 422.66,207.01 423.18,206.74 423.70,206.48 424.21,206.22 424.71,205.96 425.29,205.66 425.87,205.36 426.43,205.06 426.99,204.77 427.55,204.47 428.10,204.17 428.64,203.88 429.17,203.59 429.70,203.29 430.23,203.00 430.75,202.71 431.26,202.43 431.77,202.14 432.27,201.85 432.84,201.53 433.40,201.20 433.95,200.88 434.50,200.56 435.04,200.24 435.58,199.92 436.11,199.61 436.63,199.29 437.15,198.98 437.66,198.66 438.17,198.35 438.67,198.04 439.23,197.70 439.78,197.35 440.33,197.01 440.87,196.66 441.40,196.32 441.93,195.98 442.45,195.65 442.97,195.31 443.48,194.98 443.98,194.64 444.48,194.31 445.03,193.95 445.58,193.58 446.12,193.22 446.65,192.86 447.17,192.50 447.69,192.14 448.21,191.79 448.72,191.44 449.22,191.08 449.77,190.70 450.31,190.32 450.85,189.94 451.38,189.56 451.90,189.18 452.42,188.81 452.93,188.43 453.44,188.06 453.94,187.69 454.48,187.29 455.02,186.90 455.55,186.50 456.07,186.11 456.59,185.72 457.11,185.33 457.61,184.94 458.12,184.56 458.65,184.14 459.19,183.73 459.71,183.32 460.23,182.91 460.75,182.51 461.26,182.11 461.76,181.71 462.30,181.28 462.83,180.85 463.36,180.43 463.88,180.01 464.39,179.59 464.90,179.17 465.40,178.76 465.94,178.32 466.46,177.88 466.99,177.45 467.50,177.02 468.01,176.59 468.52,176.16 469.02,175.74 469.55,175.29 470.07,174.84 470.59,174.40 471.10,173.96 471.60,173.52 472.10,173.09 472.63,172.63 473.15,172.17 473.66,171.72 474.17,171.27 474.68,170.82 475.20,170.35 475.73,169.89 476.24,169.42 476.75,168.96 477.26,168.51 477.76,168.05 478.28,167.58 478.80,167.10 479.31,166.63 479.82,166.17 480.32,165.71 480.84,165.22 481.35,164.74 481.87,164.26 482.37,163.79 482.89,163.30 483.41,162.81 483.93,162.32 484.44,161.84 484.94,161.36 485.46,160.86 485.97,160.36 486.48,159.87 486.99,159.39 487.51,158.88 488.03,158.38 488.54,157.88 489.04,157.39 489.54,156.89 490.06,156.39 490.57,155.88 491.08,155.38 491.58,154.89 492.09,154.37 492.60,153.86 493.11,153.36 493.63,152.84 494.14,152.32 494.65,151.81 495.15,151.30 495.67,150.77 496.18,150.25 496.69,149.74 497.19,149.23 497.70,148.70 498.21,148.18 498.71,147.66 499.23,147.13 499.74,146.60 500.24,146.08 500.76,145.54 501.27,145.01 501.77,144.48 502.28,143.96 502.79,143.42 503.29,142.89 503.79,142.36 504.31,141.83 504.81,141.29 505.31,140.76 505.82,140.22 506.33,139.68 506.83,139.15 507.34,138.61 507.85,138.07 508.36,137.52 508.87,136.97 509.37,136.43 509.89,135.88 510.39,135.33 510.89,134.79 511.40,134.24 511.91,133.70 512.42,133.14 512.93,132.59 513.43,132.05 513.94,131.49 514.45,130.94 514.96,130.38 515.47,129.83 515.97,129.28 516.48,128.73 516.98,128.18 517.49,127.62 518.00,127.06 518.51,126.50 519.01,125.95 519.51,125.39 520.02,124.84 520.52,124.28 521.03,123.72 521.53,123.17 522.04,122.61 522.54,122.05 523.05,121.49 523.56,120.93 524.06,120.37 524.57,119.81 525.08,119.25 525.58,118.69 526.09,118.13 526.59,117.57 527.10,117.00 527.60,116.45 528.10,115.88 528.61,115.33 529.11,114.77 529.61,114.21 530.12,113.65 530.62,113.08 531.13,112.52 531.63,111.96 532.13,111.40 532.64,110.84 533.15,110.28 533.65,109.72 534.16,109.15 534.66,108.60 535.16,108.04 535.67,107.47 536.17,106.91 536.68,106.35 537.19,105.79 537.69,105.23 538.19,104.67 538.70,104.11 539.20,103.55 539.71,102.99 540.21,102.43 540.72,101.88 541.22,101.32 541.73,100.76 542.23,100.21 542.73,99.66 543.23,99.10 543.74,98.55 544.24,97.99 544.74,97.44 545.25,96.89 545.75,96.34 546.25,95.79 546.76,95.24 547.26,94.69 547.76,94.14 548.27,93.59 548.77,93.05 549.27,92.50 549.77,91.96 550.28,91.41 550.78,90.87 551.28,90.32 551.79,89.78 552.29,89.24 552.79,88.70 553.29,88.17 553.79,87.63 554.30,87.09 554.80,86.56 555.30,86.02 555.80,85.49 556.31,84.96 556.81,84.42 557.31,83.89 557.82,83.36 558.32,82.83 558.82,82.31 559.33,81.78 559.83,81.26 560.33,80.73 560.83,80.21 561.34,79.69 561.84,79.18 562.34,78.66 562.84,78.15 563.34,77.63 563.84,77.12 564.35,76.61 564.85,76.10 565.35,75.59 565.85,75.08 566.35,74.58 566.86,74.08 567.36,73.57 567.86,73.07 568.36,72.58 568.87,72.08 569.37,71.58 569.87,71.09 570.37,70.60 570.88,70.11 571.38,69.62 571.88,69.14 572.38,68.65 572.88,68.17 573.38,67.69 573.89,67.21 574.39,66.74 574.89,66.26 575.39,65.79 575.89,65.32 576.39,64.85 576.90,64.39 577.40,63.92 577.90,63.46 578.40,63.00 578.90,62.55 579.40,62.09 579.90,61.64 580.41,61.19 580.91,60.74 581.41,60.30 581.91,59.85 582.41,59.41 582.91,58.97 583.41,58.54 583.92,58.10 584.42,57.67 584.92,57.24 585.42,56.82 585.92,56.39 586.42,55.97 586.92,55.55 587.43,55.14 587.93,54.72 588.43,54.31 588.93,53.90 589.43,53.50 589.93,53.09 590.44,52.69 590.94,52.29 591.44,51.90 591.94,51.50 592.45,51.11 592.95,50.73 593.45,50.34 593.95,49.96 594.45,49.58 594.95,49.21 595.45,48.84 595.95,48.47 596.46,48.10 596.96,47.74 597.46,47.38 597.96,47.02 598.46,46.66 598.96,46.31 599.46,45.96 599.97,45.62 600.47,45.27 600.97,44.93 601.47,44.60 601.97,44.26 602.47,43.93 602.97,43.61 603.47,43.28 603.97,42.96 604.47,42.64 604.97,42.33 605.48,42.02 605.98,41.71 606.48,41.40 606.98,41.10 607.48,40.80 607.98,40.50 608.48,40.21 608.98,39.92 609.48,39.64 609.98,39.35 610.49,39.08 610.99,38.80 611.49,38.53 611.99,38.26 612.49,37.99 612.99,37.73 613.49,37.47 613.99,37.21 614.49,36.96 614.99,36.71 615.49,36.46 615.99,36.22 616.49,35.98 616.99,35.74 617.49,35.51 618.00,35.27 618.50,35.05 619.00,34.82 619.50,34.60 620.00,34.38 620.50,34.17 621.00,33.96 621.50,33.75 622.00,33.55 622.50,33.35 623.00,33.15 623.50,32.95 624.00,32.76 624.50,32.57 625.00,32.39 625.50,32.20 626.00,32.03 626.51,31.85 627.01,31.68 627.51,31.51 628.01,31.34 628.51,31.18 629.01,31.02 629.51,30.86 630.01,30.70 630.51,30.55 631.01,30.40 631.51,30.26 632.01,30.11 632.51,29.97 633.01,29.84 633.51,29.70 634.01,29.57 634.52,29.44 635.02,29.32 635.52,29.19 636.02,29.07 636.52,28.96 637.02,28.84 637.52,28.73 638.02,28.62 638.52,28.51 639.02,28.41 639.52,28.31 640.02,28.21 640.52,28.11 641.02,28.02 641.52,27.92 642.02,27.84 642.52,27.75 643.02,27.66 643.52,27.58 644.03,27.50 644.53,27.42 645.03,27.35 645.53,27.27 646.03,27.20 646.53,27.13 647.03,27.06 647.53,27.00 648.03,26.94 648.53,26.87 649.03,26.81 649.53,26.76 650.03,26.70 650.53,26.65 651.03,26.60 651.53,26.54 652.03,26.50 652.53,26.45 653.03,26.40 653.53,26.36 654.03,26.32 654.53,26.28 655.03,26.24 655.53,26.20 656.03,26.16 656.53,26.13 657.03,26.09 657.54,26.06 658.04,26.03 658.54,26.00 659.04,25.97 659.54,25.94 660.04,25.92 660.54,25.89 661.04,25.87 661.54,25.84 662.04,25.82 662.54,25.80 663.04,25.78 663.54,25.76 664.04,25.74 664.54,25.72 665.04,25.71 665.54,25.69 666.04,25.67 666.54,25.66 667.04,25.65 667.54,25.63 668.04,25.62 668.54,25.61 669.04,25.60 669.54,25.59 670.04,25.58 670.54,25.57 671.04,25.56 671.54,25.55 672.04,25.54 672.54,25.53 673.04,25.52 673.54,25.52 674.04,25.51 674.54,25.50 675.04,25.50 675.54,25.49 676.04,25.49 676.55,25.48 677.05,25.48 677.55,25.48 678.05,25.47 678.55,25.47 679.05,25.46 679.55,25.46 680.05,25.46 680.55,25.46 681.05,25.45 681.55,25.45 682.05,25.45 682.55,25.45 683.05,25.44 683.55,25.44 684.05,25.44 684.55,25.44 685.05,25.44 685.55,25.44 686.05,25.43 686.55,25.43 687.05,25.43 687.55,25.43 688.05,25.43 688.55,25.43 689.05,25.43 689.55,25.43 690.05,25.43 690.55,25.43 691.05,25.43 691.55,25.43 692.05,25.43 692.55,25.43 693.05,25.42 693.55,25.42 694.05,25.42 694.55,25.42 695.05,25.42 695.55,25.42 696.05,25.42 696.55,25.42 697.05,25.42 697.55,25.42 698.05,25.42 698.55,25.42 699.05,25.42 699.55,25.42 700.05,25.42 700.55,25.42 701.05,25.42 701.55,25.42 702.05,25.42 702.55,25.42 703.05,25.42 703.55,25.42 704.05,25.42 704.55,25.42 705.05,25.42 705.55,25.42 705.60,25.42"/>
<polyline stroke="#9467bd" points="109.02,131.90 147.94,131.89 169.15,131.88 183.81,131.88 195.02,131.87 204.10,131.86 211.74,131.86 218.32,131.85 224.11,131.84 229.28,131.83 233.94,131.83 238.19,131.82 242.10,131.81 245.71,131.81 249.07,131.80 252.21,131.79 255.15,131.78 257.93,131.78 260.55,131.77 263.04,131.76 265.40,131.76 267.66,131.75 269.81,131.74 271.87,131.74 273.84,131.73 275.74,131.72 277.57,131.71 279.33,131.71 281.02,131.70 282.66,131.69 284.24,131.69 285.78,131.68 287.26,131.67 288.71,131.66 290.11,131.66 291.47,131.65 292.79,131.64 294.07,131.64 295.33,131.63 296.55,131.62 297.74,131.61 298.90,131.61 300.04,131.60 301.15,131.59 302.23,131.59 303.29,131.58 304.33,131.57 305.34,131.56 306.33,131.56 307.31,131.55 308.26,131.54 309.20,131.54 310.12,131.53 311.02,131.52 311.90,131.52 312.77,131.51 313.62,131.50 314.46,131.49 315.28,131.49 316.09,131.48 316.89,131.47 317.67,131.47 318.44,131.46 319.20,131.45 319.95,131.44 320.68,131.44 321.40,131.43 322.12,131.42 322.82,131.42 323.51,131.41 324.20,131.40 324.87,131.40 325.53,131.39 326.19,131.38 326.83,131.37 327.47,131.37 328.10,131.36 328.72,131.35 329.33,131.35 329.94,131.34 330.54,131.33 331.13,131.32 331.71,131.32 332.29,131.31 332.86,131.30 333.42,131.30 333.98,131.29 334.53,131.28 335.07,131.28 335.61,131.27 336.14,131.26 336.66,131.25 337.18,131.25 337.70,131.24 338.21,131.23 338.71,131.23 339.70,131.21 340.67,131.20 341.63,131.18 342.56,131.17 343.48,131.16 344.38,131.14 345.26,131.13 346.12,131.11 346.98,131.10 347.81,131.09 348.63,131.07 349.44,131.06 350.24,131.04 351.02,131.03 351.79,131.01 352.54,131.00 353.29,130.99 354.02,130.97 354.75,130.96 355.46,130.94 356.16,130.93 356.85,130.92 357.53,130.90 358.21,130.89 358.87,130.87 359.52,130.86 360.17,130.85 360.80,130.83 361.43,130.82 362.05,130.80 362.66,130.79 363.27,130.78 363.87,130.76 364.46,130.75 365.04,130.73 365.61,130.72 366.18,130.71 366.74,130.69 367.30,130.68 367.85,130.66 368.39,130.65 368.93,130.64 369.46,130.62 369.99,130.61 370.51,130.60 371.02,130.58 371.53,130.57 372.03,130.55 372.78,130.53 373.51,130.51 374.23,130.49 374.94,130.47 375.64,130.45 376.34,130.43 377.02,130.41 377.69,130.39 378.35,130.37 379.01,130.34 379.65,130.32 380.29,130.30 380.91,130.28 381.53,130.26 382.15,130.24 382.75,130.22 383.35,130.20 383.94,130.18 384.52,130.16 385.09,130.14 385.66,130.12 386.23,130.10 386.78,130.07 387.33,130.05 387.87,130.03 388.41,130.01 388.94,129.99 389.46,129.97 389.98,129.95 390.50,129.93 391.01,129.91 391.51,129.89 392.17,129.86 392.82,129.83 393.47,129.81 394.11,129.78 394.73,129.75 395.35,129.72 395.97,129.70 396.57,129.67 397.17,129.64 397.76,129.61 398.34,129.59 398.91,129.56 399.48,129.53 400.04,129.50 400.60,129.48 401.15,129.45 401.69,129.42 402.23,129.39 402.76,129.37 403.28,129.34 403.80,129.31 404.31,129.29 404.82,129.26 405.33,129.23 405.95,129.20 406.56,129.16 407.17,129.13 407.76,129.09 408.35,129.06 408.94,129.03 409.51,128.99 410.08,128.96 410.65,128.93 411.20,128.89 411.75,128.86 412.30,128.82 412.84,128.79 413.37,128.76 413.89,128.72 414.41,128.69 414.93,128.66 415.44,128.62 415.94,128.59 416.54,128.55 417.13,128.51 417.71,128.47 418.29,128.43 418.86,128.39 419.42,128.35 419.98,128.31 420.53,128.27 421.07,128.22 421.61,128.18 422.14,128.14 422.66,128.10 423.18,128.06 423.70,128.02 424.21,127.98 424.71,127.94 425.29,127.90 425.87,127.85 426.43,127.80 426.99,127.76 427.55,127.71 428.10,127.67 428.64,127.62 429.17,127.57 429.70,127.53 430.23,127.48 430.75,127.43 431.26,127.39 431.77,127.34 432.27,127.30 432.84,127.24 433.40,127.19 433.95,127.14 434.50,127.08 435.04,127.03 435.58,126.98 436.11,126.93 436.63,126.88 437.15,126.82 437.66,126.77 438.17,126.72 438.67,126.67 439.23,126.61 439.78,126.55 440.33,126.49 440.87,126.43 441.40,126.37 441.93,126.32 442.45,126.26 442.97,126.20 443.48,126.14 443.98,126.08 444.48,126.02 445.03,125.96 445.58,125.90 446.12,125.83 446.65,125.77 447.17,125.70 447.69,125.64 448.21,125.58 448.72,125.51 449.22,125.45 449.77,125.38 450.31,125.31 450.85,125.24 451.38,125.17 451.90,125.10 452.42,125.03 452.93,124.96 453.44,124.89 453.94,124.82 454.48,124.74 455.02,124.67 455.55,124.59 456.07,124.52 456.59,124.44 457.11,124.37 457.61,124.29 458.12,124.22 458.65,124.13 459.19,124.05 459.71,123.97 460.23,123.89 460.75,123.81 461.26,123.73 461.76,123.65 462.30,123.56 462.83,123.48 463.36,123.39 463.88,123.31 464.39,123.22 464.90,123.13 465.40,123.05 465.94,122.96 466.46,122.86 466.99,122.77 467.50,122.68 468.01,122.59 468.52,122.50 469.02,122.41 469.55,122.31 470.07,122.22 470.59,122.12 471.10,122.02 471.60,121.93 472.10,121.83 472.63,121.73 473.15,121.63 473.66,121.53 474.17,121.42 474.68,121.32 475.20,121.22 475.73,121.11 476.24,121.00 476.75,120.90 477.26,120.79 477.76,120.69 478.28,120.57 478.80,120.46 479.31,120.35 479.82,120.24 480.32,120.13 480.84,120.02 481.35,119.90 481.87,119.78 482.37,119.67 482.89,119.55 483.41,119.43 483.93,119.31 484.44,119.19 484.94,119.07 485.46,118.94 485.97,118.82 486.48,118.69 486.99,118.57 487.51,118.44 488.03,118.31 488.54,118.18 489.04,118.05 489.54,117.92 490.06,117.79 490.57,117.65 491.08,117.52 491.58,117.39 492.09,117.25 492.60,117.11 493.11,116.97 493.63,116.83 494.14,116.69 494.65,116.55 495.15,116.41 495.67,116.26 496.18,116.11 496.69,115.97 497.19,115.82 497.70,115.67 498.21,115.52 498.71,115.37 499.23,115.22 499.74,115.06 500.24,114.91 500.76,114.75 501.27,114.59 501.77,114.44 502.28,114.28 502.79,114.12 503.29,113.96 503.79,113.80 504.31,113.63 504.81,113.46 505.31,113.30 505.82,113.13 506.33,112.96 506.83,112.79 507.34,112.62 507.85,112.45 508.36,112.27 508.87,112.10 509.37,111.92 509.89,111.74 510.39,111.56 510.89,111.38 511.40,111.20 511.91,111.02 512.42,110.83 512.93,110.65 513.43,110.46 513.94,110.27 514.45,110.08 514.96,109.89 515.47,109.70 515.97,109.51 516.48,109.31 516.98,109.12 517.49,108.92 518.00,108.72 518.51,108.52 519.01,108.32 519.51,108.12 520.02,107.91 520.52,107.71 521.03,107.50 521.53,107.29 522.04,107.08 522.54,106.87 523.05,106.66 523.56,106.45 524.06,106.23 524.57,106.02 525.08,105.80 525.58,105.58 526.09,105.36 526.59,105.14 527.10,104.92 527.60,104.70 528.10,104.47 528.61,104.24 529.11,104.02 529.61,103.79 530.12,103.56 530.62,103.33 531.13,103.09 531.63,102.86 532.13,102.62 532.64,102.38 533.15,102.14 533.65,101.90 534.16,101.66 534.66,101.42 535.16,101.18 535.67,100.93 536.17,100.68 536.68,100.44 537.19,100.19 537.69,99.94 538.19,99.68 538.70,99.43 539.20,99.17 539.71,98.92 540.21,98.66 540.72,98.40 541.22,98.14 541.73,97.88 542.23,97.62 542.73,97.35 543.23,97.09 543.74,96.82 544.24,96.55 544.74,96.29 545.25,96.02 545.75,95.74 546.25,95.47 546.76,95.20 547.26,94.92 547.76,94.65 548.27,94.37 548.77,94.09 549.27,93.81 549.77,93.53 550.28,93.25 550.78,92.96 551.28,92.68 551.79,92.39 552.29,92.10 552.79,91.82 553.29,91.53 553.79,91.24 554.30,90.94 554.80,90.65 555.30,90.36 555.80,90.06 556.31,89.76 556.81,89.47 557.31,89.17 557.82,88.87 558.32,88.57 558.82,88.26 559.33,87.96 559.83,87.66 560.33,87.35 560.83,87.04 561.34,86.74 561.84,86.43 562.34,86.12 562.84,85.81 563.34,85.50 563.84,85.19 564.35,84.87 564.85,84.56 565.35,84.24 565.85,83.93 566.35,83.61 566.86,83.30 567.36,82.98 567.86,82.66 568.36,82.34 568.87,82.01 569.37,81.69 569.87,81.37 570.37,81.05 570.88,80.72 571.38,80.40 571.88,80.07 572.38,79.74 572.88,79.42 573.38,79.09 573.89,78.76 574.39,78.43 574.89,78.10 575.39,77.77 575.89,77.44 576.39,77.11 576.90,76.78 577.40,76.44 577.90,76.11 578.40,75.78 578.90,75.44 579.40,75.11 579.90,74.77 580.41,74.44 580.91,74.10 581.41,73.76 581.91,73.43 582.41,73.09 582.91,72.75 583.41,72.41 583.92,72.07 584.42,71.74 584.92,71.40 585.42,71.06 585.92,70.72 586.42,70.38 586.92,70.04 587.43,69.70 587.93,69.36 588.43,69.02 588.93,68.68 589.43,68.33 589.93,67.99 590.44,67.65 590.94,67.31 591.44,66.97 591.94,66.63 592.45,66.29 592.95,65.94 593.45,65.60 593.95,65.26 594.45,64.92 594.95,64.58 595.45,64.24 595.95,63.90 596.46,63.56 596.96,63.22 597.46,62.88 597.96,62.54 598.46,62.21 598.96,61.87 599.46,61.53 599.97,61.19 600.47,60.86 600.97,60.52 601.47,60.18 601.97,59.85 602.47,59.51 602.97,59.18 603.47,58.84 603.97,58.51 604.47,58.18 604.97,57.84 605.48,57.51 605.98,57.18 606.48,56.85 606.98,56.52 607.48,56.19 607.98,55.87 608.48,55.54 608.98,55.21 609.48,54.89 609.98,54.56 610.49,54.24 610.99,53.92 611.49,53.60 611.99,53.28 612.49,52.96 612.99,52.64 613.49,52.32 613.99,52.00 614.49,51.69 614.99,51.37 615.49,51.06 615.99,50.75 616.49,50.44 616.99,50.13 617.49,49.82 618.00,49.51 618.50,49.21 619.00,48.90 619.50,48.60 620.00,48.30 620.50,48.00 621.00,47.70 621.50,47.40 622.00,47.11 622.50,46.81 623.00,46.52 623.50,46.23 624.00,45.94 624.50,45.65 625.00,45.36 625.50,45.08 626.00,44.80 626.51,44.51 627.01,44.23 627.51,43.96 628.01,43.68 628.51,43.41 629.01,43.13 629.51,42.86 630.01,42.59 630.51,42.33 631.01,42.06 631.51,41.80 632.01,41.53 632.51,41.27 633.01,41.02 633.51,40.76 634.01,40.51 634.52,40.26 635.02,40.01 635.52,39.76 636.02,39.51 636.52,39.27 637.02,39.03 637.52,38.79 638.02,38.55 638.52,38.32 639.02,38.08 639.52,37.85 640.02,37.62 640.52,37.40 641.02,37.17 641.52,36.95 642.02,36.73 642.52,36.51 643.02,36.30 643.52,36.09 644.03,35.87 644.53,35.67 645.03,35.46 645.53,35.26 646.03,35.06 646.53,34.86 647.03,34.66 647.53,34.46 648.03,34.27 648.53,34.08 649.03,33.90 649.53,33.71 650.03,33.53 650.53,33.35 651.03,33.17 651.53,32.99 652.03,32.82 652.53,32.65 653.03,32.48 653.53,32.32 654.03,32.15 654.53,31.99 655.03,31.83 655.53,31.68 656.03,31.52 656.53,31.37 657.03,31.22 657.54,31.07 658.04,30.93 658.54,30.79 659.04,30.65 659.54,30.51 660.04,30.38 660.54,30.24 661.04,30.11 661.54,29.98 662.04,29.86 662.54,29.73 663.04,29.61 663.54,29.49 664.04,29.38 664.54,29.26 665.04,29.15 665.54,29.04 666.04,28.93 666.54,28.83 667.04,28.72 667.54,28.62 668.04,28.52 668.54,28.43 669.04,28.33 669.54,28.24 670.04,28.15 670.54,28.06 671.04,27.97 671.54,27.89 672.04,27.81 672.54,27.73 673.04,27.65 673.54,27.57 674.04,27.50 674.54,27.42 675.04,27.35 675.54,27.28 676.04,27.22 676.55,27.15 677.05,27.09 677.55,27.03 678.05,26.96 678.55,26.91 679.05,26.85 679.55,26.79 680.05,26.74 680.55,26.69 681.05,26.64 681.55,26.59 682.05,26.54 682.55,26.50 683.05,26.45 683.55,26.41 684.05,26.37 684.55,26.33 685.05,26.29 685.55,26.25 686.05,26.21 686.55,26.18 687.05,26.14 687.55,26.11 688.05,26.08 688.55,26.05 689.05,26.02 689.55,25.99 690.05,25.96 690.55,25.94 691.05,25.91 691.55,25.89 692.05,25.86 692.55,25.84 693.05,25.82 693.55,25.80 694.05,25.78 694.55,25.76 695.05,25.74 695.55,25.73 696.05,25.71 696.55,25.70 697.05,25.68 697.55,25.67 698.05,25.65 698.55,25.64 699.05,25.63 699.55,25.61 700.05,25.60 700.55,25.59 701.05,25.58 701.55,25.57 702.05,25.56 702.55,25.55 703.05,25.55 703.55,25.54 704.05,25.53 704.55,25.52 705.05,25.52 705.55,25.51 705.60,25.51"/>
</g>
<path d="M153.00 492.10 v6.6 M263.52 492.10 v6.6 M374.04 492.10 v6.6 M484.56 492.10 v6.6 M595.08 492.10 v6.6 M705.60 492.10 v6.6" stroke="#000" stroke-width="1.55" fill="none"/>
<path d="M95.21 492.10 v3.8 M109.02 492.10 v3.8 M119.73 492.10 v3.8 M128.48 492.10 v3.8 M135.88 492.10 v3.8 M142.29 492.10 v3.8 M147.94 492.10 v3.8 M186.27 492.10 v3.8 M205.73 492.10 v3.8 M219.54 492.10 v3.8 M230.25 492.10 v3.8 M239.00 492.10 v3.8 M246.40 492.10 v3.8 M252.81 492.10 v3.8 M258.46 492.10 v3.8 M296.79 492.10 v3.8 M316.25 492.10 v3.8 M330.06 492.10 v3.8 M340.77 492.10 v3.8 M349.52 492.10 v3.8 M356.92 492.10 v3.8 M363.33 492.10 v3.8 M368.98 492.10 v3.8 M407.31 492.10 v3.8 M426.77 492.10 v3.8 M440.58 492.10 v3.8 M451.29 492.10 v3.8 M460.04 492.10 v3.8 M467.44 492.10 v3.8 M473.85 492.10 v3.8 M479.50 492.10 v3.8 M517.83 492.10 v3.8 M537.29 492.10 v3.8 M551.10 492.10 v3.8 M561.81 492.10 v3.8 M570.56 492.10 v3.8 M577.96 492.10 v3.8 M584.37 492.10 v3.8 M590.02 492.10 v3.8 M628.35 492.10 v3.8 M647.81 492.10 v3.8 M661.62 492.10 v3.8 M672.33 492.10 v3.8 M681.08 492.10 v3.8 M688.48 492.10 v3.8 M694.89 492.10 v3.8 M700.54 492.10 v3.8" stroke="#000" stroke-width="1.2" fill="none"/>
<path d="M79.30 457.90 h-6.6 M79.30 269.95 h-6.6 M79.30 82.00 h-6.6" stroke="#000" stroke-width="1.55" fill="none"/>
<path d="M79.30 487.01 h-3.8 M79.30 476.11 h-3.8 M79.30 466.50 h-3.8 M79.30 401.32 h-3.8 M79.30 368.23 h-3.8 M79.30 344.74 h-3.8 M79.30 326.53 h-3.8 M79.30 311.65 h-3.8 M79.30 299.06 h-3.8 M79.30 288.16 h-3.8 M79.30 278.55 h-3.8 M79.30 213.37 h-3.8 M79.30 180.28 h-3.8 M79.30 156.79 h-3.8 M79.30 138.58 h-3.8 M79.30 123.70 h-3.8 M79.30 111.11 h-3.8 M79.30 100.21 h-3.8 M79.30 90.60 h-3.8 M79.30 25.42 h-3.8" stroke="#000" stroke-width="1.2" fill="none"/>
<rect x="79.30" y="3.35" width="656.10" height="488.75" fill="none" stroke="#000" stroke-width="1.6"/>
<text transform="translate(136.50,519.90) scale(1,1.03)" font-size="18.5" text-anchor="start">10<tspan font-size="13.2" dy="-7.0">0</tspan></text>
<text transform="translate(247.02,519.90) scale(1,1.03)" font-size="18.5" text-anchor="start">10<tspan font-size="13.2" dy="-7.0">1</tspan></text>
<text transform="translate(357.54,519.90) scale(1,1.03)" font-size="18.5" text-anchor="start">10<tspan font-size="13.2" dy="-7.0">2</tspan></text>
<text transform="translate(468.06,519.90) scale(1,1.03)" font-size="18.5" text-anchor="start">10<tspan font-size="13.2" dy="-7.0">3</tspan></text>
<text transform="translate(578.58,519.90) scale(1,1.03)" font-size="18.5" text-anchor="start">10<tspan font-size="13.2" dy="-7.0">4</tspan></text>
<text transform="translate(689.10,519.90) scale(1,1.03)" font-size="18.5" text-anchor="start">10<tspan font-size="13.2" dy="-7.0">5</tspan></text>
<text transform="translate(33.40,464.20)" font-size="18.5" text-anchor="start">10<tspan font-size="13.2" dy="-7.0">0</tspan></text>
<text transform="translate(33.40,276.25)" font-size="18.5" text-anchor="start">10<tspan font-size="13.2" dy="-7.0">1</tspan></text>
<text transform="translate(33.40,88.30)" font-size="18.5" text-anchor="start">10<tspan font-size="13.2" dy="-7.0">2</tspan></text>
<text transform="translate(407.2,550.4) scale(1,1.02)" font-size="23.85" text-anchor="middle">Tube length (cm)</text>
<text transform="translate(21.2,247.7) rotate(-90)" font-size="23.9" text-anchor="middle">Oxygen concentration (ppm)</text>
<rect x="543.9" y="342.8" width="182.3" height="139.5" rx="3.6" ry="3.6" fill="#fff" fill-opacity="0.8" stroke="#ccc" stroke-opacity="0.8" stroke-width="1.6"/>
<path d="M551.6 357.20 h36.7" stroke="#1f77b4" stroke-width="2.85" stroke-linecap="square" fill="none"/>
<text transform="translate(603.2,363.70) scale(1,1.03)" font-size="18.3">100.0 ul/min</text>
<path d="M551.6 384.15 h36.7" stroke="#ff7f0e" stroke-width="2.85" stroke-linecap="square" fill="none"/>
<text transform="translate(603.2,390.65) scale(1,1.03)" font-size="18.3">300.0 ul/min</text>
<path d="M551.6 411.10 h36.7" stroke="#2ca02c" stroke-width="2.85" stroke-linecap="square" fill="none"/>
<text transform="translate(603.2,417.60) scale(1,1.03)" font-size="18.3">500.0 ul/min</text>
<path d="M551.6 438.05 h36.7" stroke="#d62728" stroke-width="2.85" stroke-linecap="square" fill="none"/>
<text transform="translate(603.2,444.55) scale(1,1.03)" font-size="18.3">1000 ul/min</text>
<path d="M551.6 465.00 h36.7" stroke="#9467bd" stroke-width="2.85" stroke-linecap="square" fill="none"/>
<text transform="translate(603.2,471.50) scale(1,1.03)" font-size="18.3">2000 ul/min</text>
</svg></body></html>
